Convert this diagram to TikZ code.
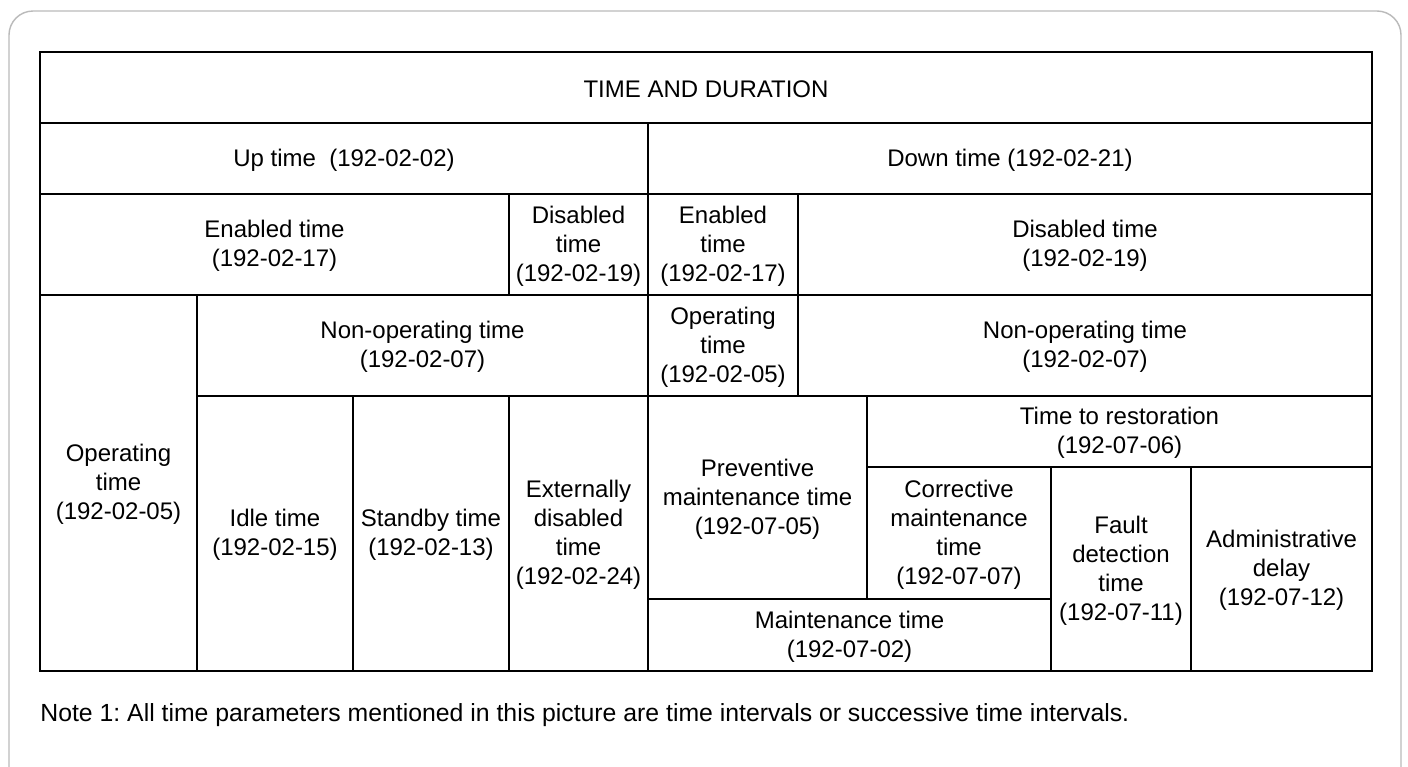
\documentclass[tikz,border=0pt]{standalone}
\usepackage{fontspec}
\setmainfont{Liberation Sans}
\usetikzlibrary{fit}
\begin{document}
\frenchspacing
\begin{tikzpicture}[x=0.5pt,y=-0.5pt,
  cell/.style={draw=black, line width=1pt, inner sep=0pt, outer sep=0pt},
  celltext/.style={inner sep=0pt, align=center, yshift=-0.8pt,
    font=\fontsize{12}{14.5}\selectfont},
  frame/.style={draw=black!27, line width=0.7pt, rounded corners=12pt},
  notetext/.style={inner sep=0pt, anchor=base west, font=\fontsize{12.4}{15}\selectfont}]
\clip (0,0) rectangle (1408,766);
\fill[white] (0,0) rectangle (1408,766);
% surrounding panel (its lower edge runs off the page)
\draw[frame] (9,820) -- (9,11) -- (1401,11) -- (1401,820);

% cell frames
\node[cell, fit={(40,52) (1372,123)}] (title) {};
\node[cell, fit={(40,123) (648,194)}] (up) {};
\node[cell, fit={(648,123) (1372,194)}] (down) {};
\node[cell, fit={(40,194) (509,295)}] (upen) {};
\node[cell, fit={(509,194) (648,295)}] (updis) {};
\node[cell, fit={(648,194) (798,295)}] (downen) {};
\node[cell, fit={(798,194) (1372,295)}] (downdis) {};
\node[cell, fit={(40,295) (197,671)}] (upop) {};
\node[cell, fit={(197,295) (648,396)}] (upnonop) {};
\node[cell, fit={(648,295) (798,396)}] (downop) {};
\node[cell, fit={(798,295) (1372,396)}] (downnonop) {};
\node[cell, fit={(197,396) (353,671)}] (idle) {};
\node[cell, fit={(353,396) (509,671)}] (standby) {};
\node[cell, fit={(509,396) (648,671)}] (extdis) {};
\node[cell, fit={(648,396) (867,599)}] (prev) {};
\node[cell, fit={(867,396) (1372,467)}] (restore) {};
\node[cell, fit={(867,467) (1051,599)}] (corr) {};
\node[cell, fit={(648,599) (1051,671)}] (maint) {};
\node[cell, fit={(1051,467) (1191,671)}] (fault) {};
\node[cell, fit={(1191,467) (1372,671)}] (admin) {};

% cell texts
\node[celltext] (t-title) at (title.center) {TIME AND DURATION};
\node[celltext] (t-up) at (up.center) {Up time\ \ (192-02-02)};
\node[celltext] (t-down) at (down.center) {Down time (192-02-21)};
\node[celltext] (t-upen) at (upen.center) {Enabled time\\(192-02-17)};
\node[celltext] (t-updis) at (updis.center) {Disabled\\time\\(192-02-19)};
\node[celltext] (t-downen) at (downen.center) {Enabled\\time\\(192-02-17)};
\node[celltext] (t-downdis) at (downdis.center) {Disabled time\\(192-02-19)};
\node[celltext] (t-upop) at (upop.center) {Operating\\time\\(192-02-05)};
\node[celltext] (t-upnonop) at (upnonop.center) {Non-operating time\\(192-02-07)};
\node[celltext] (t-downop) at (downop.center) {Operating\\time\\(192-02-05)};
\node[celltext] (t-downnonop) at (downnonop.center) {Non-operating time\\(192-02-07)};
\node[celltext] (t-idle) at (idle.center) {Idle time\\(192-02-15)};
\node[celltext] (t-standby) at (standby.center) {Standby time\\(192-02-13)};
\node[celltext] (t-extdis) at (extdis.center) {Externally\\disabled\\time\\(192-02-24)};
\node[celltext] (t-prev) at (prev.center) {Preventive\\maintenance time\\(192-07-05)};
\node[celltext] (t-restore) at (restore.center) {Time to restoration\\(192-07-06)};
\node[celltext] (t-corr) at (corr.center) {Corrective\\maintenance\\time\\(192-07-07)};
\node[celltext] (t-maint) at (maint.center) {Maintenance time\\(192-07-02)};
\node[celltext] (t-fault) at (fault.center) {Fault\\detection\\time\\(192-07-11)};
\node[celltext] (t-admin) at (admin.center) {Administrative\\delay\\(192-07-12)};

% outer border of the table
\draw[line width=1.2pt] (title.north west) rectangle (admin.south east);

\node[notetext] (note) at (40,721) {Note 1: All time parameters mentioned in this picture are time intervals or successive time intervals.};
\end{tikzpicture}
\end{document}
